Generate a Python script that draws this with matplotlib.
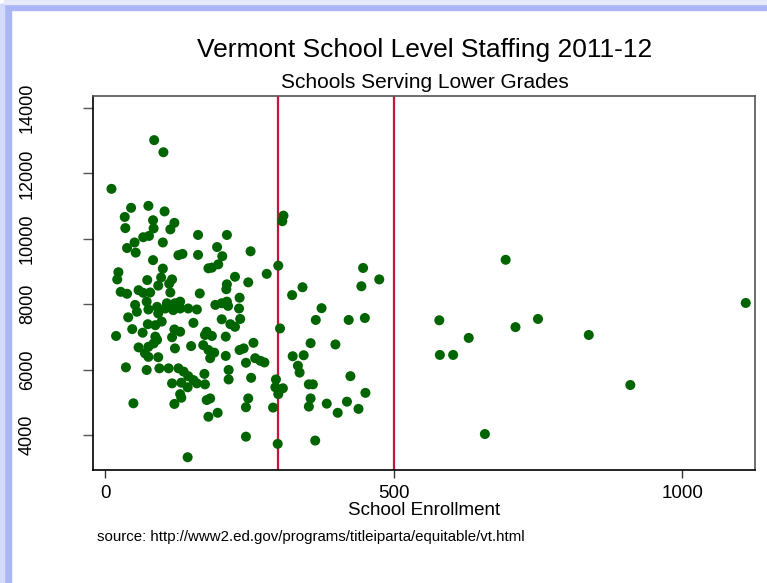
import matplotlib
matplotlib.use("Agg")
import matplotlib.pyplot as plt
from matplotlib.patches import Rectangle

plt.rcParams['font.family'] = ['Liberation Sans', 'DejaVu Sans']

# school enrollment vs staffing
enrollment = [
    11, 85, 101, 45, 75, 103, 34, 83, 120, 35, 84, 113, 66, 76, 161, 211, 51, 100, 38, 53,
    194, 252, 83, 127, 134, 161, 203, 309, 307, 100, 179, 185, 196, 300, 280, 23, 21, 97, 73, 116,
    111, 92, 225, 248, 211, 210, 27, 38, 58, 66, 78, 113, 164, 233, 324, 342, 447, 475, 444, 375,
    365, 422, 450, 303, 356, 399, 325, 344, 276, 334, 337, 425, 296, 295, 308, 300, 353, 360, 451, 356,
    353, 384, 419, 403, 439, 291, 364, 299, 244, 143, 49, 120, 179, 195, 248, 244, 182, 176, 130, 132,
    116, 132, 143, 127, 136, 144, 153, 159, 172, 173, 214, 214, 253, 36, 72, 94, 110, 244, 260, 269,
    257, 233, 240, 209, 170, 179, 189, 182, 149, 121, 58, 75, 69, 75, 92, 87, 90, 84, 19, 47,
    65, 74, 87, 98, 40, 120, 130, 116, 153, 176, 185, 173, 209, 202, 217, 225, 234, 52, 55, 72,
    75, 90, 92, 104, 118, 107, 121, 130, 130, 144, 159, 191, 202, 213, 211, 232,
    579, 630, 580, 603, 694, 658, 711, 750, 838, 910, 1110,
]
staffing = [
    11530, 13020, 12650, 10950, 11010, 10840, 10670, 10570, 10490, 10330, 10320, 10290, 10050, 10090, 10120, 10120, 9890, 9890, 9720, 9580,
    9750, 9620, 9350, 9500, 9540, 9510, 9470, 10710, 10540, 9090, 9100, 9120, 9220, 9180, 8930, 8980, 8760, 8820, 8740, 8760,
    8630, 8570, 8840, 8670, 8610, 8460, 8380, 8320, 8430, 8350, 8360, 8360, 8330, 8200, 8280, 8520, 9110, 8760, 8550, 7880,
    7520, 7520, 7580, 7260, 6810, 6770, 6410, 6440, 6220, 6120, 5910, 5800, 5700, 5460, 5430, 5250, 5550, 5550, 5290, 5120,
    4870, 4960, 5020, 4680, 4800, 4840, 3830, 3730, 3950, 3320, 4970, 4950, 4560, 4680, 5120, 4850, 5120, 5070, 5250, 5140,
    5580, 5600, 5460, 6040, 5940, 5800, 5680, 5580, 5870, 5550, 5990, 5700, 5750, 6070, 5990, 6040, 6040, 6210, 6350, 6270,
    6820, 6600, 6650, 6420, 6750, 6600, 6520, 6350, 6720, 6650, 6680, 6700, 6500, 6390, 6380, 7010, 6910, 6800, 7030, 7240,
    7130, 7390, 7360, 7470, 7600, 7230, 7160, 6990, 7430, 7160, 7030, 7060, 7010, 7540, 7390, 7310, 7550, 7980, 7770, 8080,
    7840, 7920, 7720, 7870, 7820, 8030, 8030, 8080, 7870, 7870, 7840, 7980, 8030, 7950, 8080, 7870,
    7510, 6970, 6450, 6450, 9360, 4030, 7300, 7550, 7060, 5530, 8040,
]
cutoffs = [300, 500]
xticks = [0, 500, 1000]
yticks = [4000, 6000, 8000, 10000, 12000, 14000]

W, H = 767, 583
fig = plt.figure(figsize=(W / 100, H / 100), dpi=100)
ax = fig.add_axes([93 / W, 1 - 470 / H, (755 - 93) / W, (470 - 96) / H])

for c in cutoffs:
    ax.axvline(c, color='#c8143c', lw=1.6, zorder=1)
ax.scatter(enrollment, staffing, s=52, color='#006400', edgecolors='none', zorder=3)

ax.set_xlim(-21, 1126)
ax.set_ylim(2930, 14370)
ax.set_xticks(xticks)
ax.set_xticklabels([str(v) for v in xticks], fontsize=13.5)
ax.set_yticks(yticks)
ax.set_yticklabels([str(v) for v in yticks], fontsize=13, rotation=90, va='center')
ax.tick_params(axis='x', length=6, width=1, color='#333333', pad=5)
ax.tick_params(axis='y', length=7, width=1, color='#555555', pad=34)
ax.set_xlabel('School Enrollment', fontsize=13.5, labelpad=0)

for side in ['left', 'bottom']:
    ax.spines[side].set_color('black')
    ax.spines[side].set_linewidth(1.2)
for side in ['top', 'right']:
    ax.spines[side].set_color('#555555')
    ax.spines[side].set_linewidth(1.2)

fig.text(425 / W, 1 - 50 / H, 'Vermont School Level Staffing 2011-12',
         fontsize=19, ha='center', va='center')
fig.text(425 / W, 1 - 82 / H, 'Schools Serving Lower Grades',
         fontsize=15, ha='center', va='center')
fig.text(97 / W, 1 - 537 / H,
         'source: http://www2.ed.gov/programs/titleiparta/equitable/vt.html',
         fontsize=10.8, ha='left', va='center')

# blue window border on the left and top
fig.patches.append(Rectangle((0, 0), 11 / W, 1 - 4 / H, transform=fig.transFigure,
                             color='#aab6f6', zorder=10))
fig.patches.append(Rectangle((0, 0), 4 / W, 1 - 4 / H, transform=fig.transFigure,
                             color='#d4daf9', zorder=11))
fig.patches.append(Rectangle((4 / W, 1 - 10 / H), 1, 6 / H, transform=fig.transFigure,
                             color='#aab6f6', zorder=10))
fig.patches.append(Rectangle((4 / W, 1 - 4 / H), 1, 4 / H, transform=fig.transFigure,
                             color='#e6e9fb', zorder=10))

fig.savefig('out.png', dpi=100)
